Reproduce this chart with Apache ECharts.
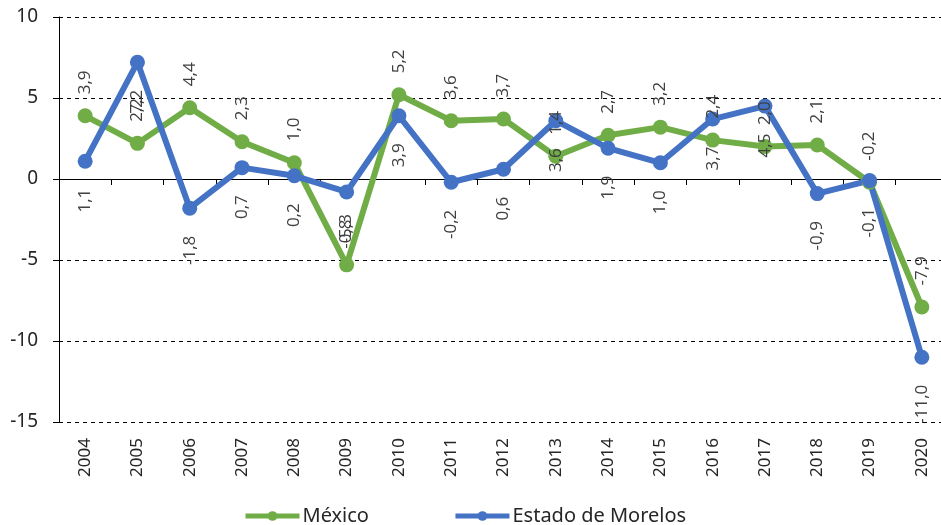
<!DOCTYPE html>
<html>
<head>
<meta charset="utf-8">
<script src="https://cdn.jsdelivr.net/npm/echarts@6/dist/echarts.min.js"></script>
<style>
  html, body { margin: 0; padding: 0; background: #fff; overflow: hidden; }
  #chart { width: 948px; height: 525px; }
</style>
</head>
<body>
<div id="chart"></div>
<script>
// years and growth rates (%)
var years = ["2004", "2005", "2006", "2007", "2008", "2009", "2010", "2011", "2012",
    "2013", "2014", "2015", "2016", "2017", "2018", "2019", "2020"];
var mexico = [3.9, 2.2, 4.4, 2.3, 1.0, -5.3, 5.2, 3.6, 3.7, 1.4, 2.7, 3.2, 2.4, 2.0, 2.1, -0.2, -7.9];
var morelos = [1.1, 7.2, -1.8, 0.7, 0.2, -0.8, 3.9, -0.2, 0.6, 3.6, 1.9, 1.0, 3.7, 4.5, -0.9, -0.1, -11.0];
var yTicks = [-15, -10, -5, 0, 5, 10];

// comma decimal like the original
function fmt(p) {
    return p.value.toFixed(1).replace(".", ",");
}

var labelFont = "Open Sans";
var axisFont = "Noto Sans";

var chart = echarts.init(document.getElementById("chart"));
var option = {
    animation: false,
    grid: { left: 59, right: 0, top: 17, bottom: 103 },
    legend: {
        top: 501,
        left: 238,
        itemGap: 84,
        itemWidth: 54,
        itemHeight: 12,
        lineStyle: { width: 5 },
        textStyle: { fontFamily: axisFont, fontSize: 20, color: "#262626", padding: [0, 0, 0, -2] },
        data: ["México", "Estado de Morelos"]
    },
    xAxis: [
        {
            type: "category",
            data: years,
            position: "bottom",
            axisLine: { show: false, onZero: false },
            axisTick: { show: false },
            axisLabel: {
                rotate: 90,
                margin: 16,
                fontFamily: axisFont,
                fontSize: 17,
                color: "#262626"
            }
        },
        {
            type: "category",
            data: years,
            position: "top",
            axisLine: { show: true, onZero: true, lineStyle: { color: "#000", width: 1 } },
            axisTick: { show: true, inside: true, length: 6, lineStyle: { color: "#000" } },
            axisLabel: { show: false }
        }
    ],
    yAxis: {
        type: "value",
        min: yTicks[0],
        max: yTicks[yTicks.length - 1],
        interval: 5,
        axisLine: { show: true, lineStyle: { color: "#000", width: 1 } },
        axisTick: { show: true, length: 6, lineStyle: { color: "#000" } },
        axisLabel: {
            margin: 21,
            fontFamily: axisFont,
            fontSize: 19,
            color: "#262626"
        },
        splitLine: { show: true, lineStyle: { color: "#000", type: [4, 4], width: 1 } }
    },
    series: [
        {
            name: "México",
            type: "line",
            data: mexico,
            symbol: "circle",
            symbolSize: 15,
            itemStyle: { color: "#70AD47" },
            lineStyle: { color: "#70AD47", width: 6 },
            label: {
                show: true,
                position: "top",
                distance: 14,
                rotate: 90,
                align: "left",
                verticalAlign: "middle",
                formatter: fmt,
                fontFamily: labelFont,
                fontSize: 17,
                color: "#404040"
            }
        },
        {
            name: "Estado de Morelos",
            type: "line",
            data: morelos,
            symbol: "circle",
            symbolSize: 15,
            itemStyle: { color: "#4472C4" },
            lineStyle: { color: "#4472C4", width: 6 },
            label: {
                show: true,
                position: "bottom",
                distance: 20,
                rotate: 90,
                align: "right",
                verticalAlign: "middle",
                formatter: fmt,
                fontFamily: labelFont,
                fontSize: 17,
                color: "#404040"
            }
        }
    ]
};
chart.setOption(option);
</script>
</body>
</html>
